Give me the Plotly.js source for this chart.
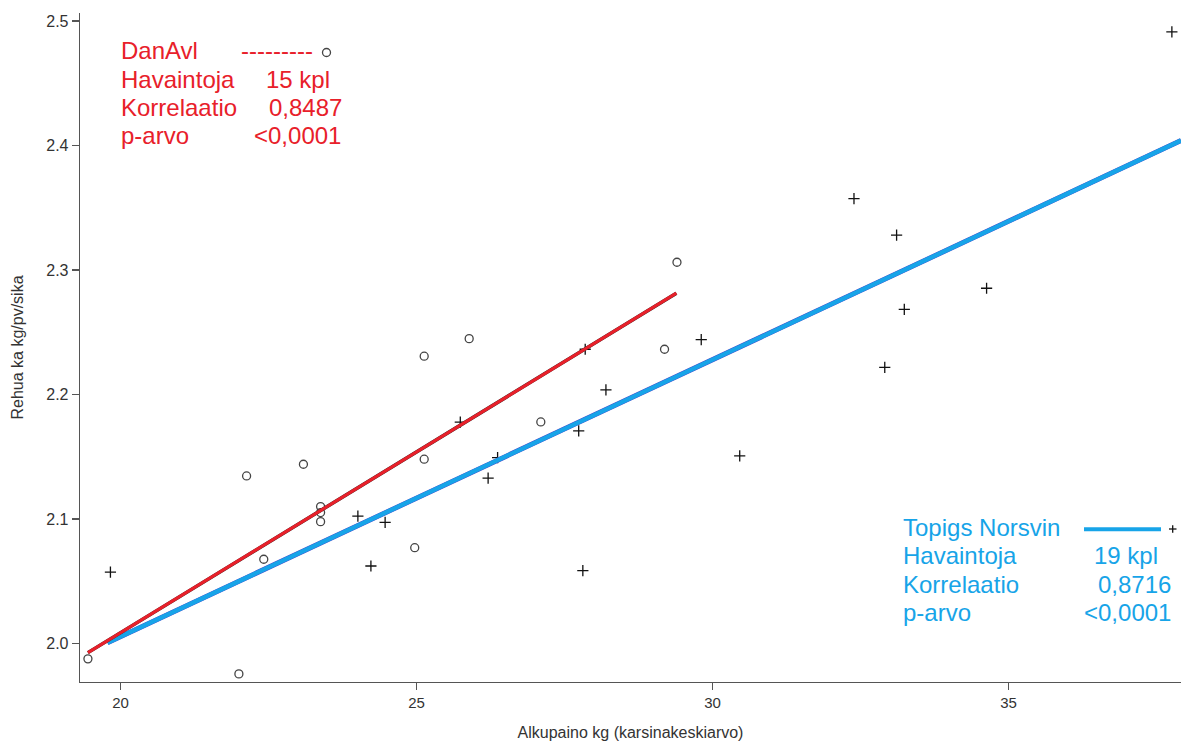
<!DOCTYPE html>
<html>
<head>
<meta charset="utf-8">
<script src="https://cdn.plot.ly/plotly-3.0.1.min.js"></script>
<style>html,body{margin:0;padding:0;background:#fff;}#chart{width:1181px;height:742px;}</style>
</head>
<body>
<div id="chart"></div>
<script>
// DanAvl (circles)
const danX = [29.40, 25.89, 25.13, 29.19, 27.10, 22.13, 23.09, 25.13, 23.38, 23.38, 23.38, 22.42, 24.97, 19.45, 22.00];
const danY = [2.3062, 2.2448, 2.2307, 2.2363, 2.1779, 2.1345, 2.1439, 2.1480, 2.1099, 2.1051, 2.0978, 2.0676, 2.0769, 1.9876, 1.9755];
// Topigs Norsvin (crosses)
const topX = [19.83, 24.01, 24.47, 24.23, 26.21, 25.74, 26.37, 27.74, 27.85, 28.20, 27.81, 29.81, 30.46, 32.39, 33.11, 33.24, 32.91, 34.63, 37.76];
const topY = [2.0572, 2.1022, 2.0973, 2.0622, 2.1327, 2.1777, 2.1492, 2.1707, 2.2363, 2.2036, 2.0585, 2.2440, 2.1506, 2.3573, 2.3279, 2.2684, 2.2218, 2.2853, 2.4912];
// regression lines (end points)
const danFitX = [19.45, 29.39];
const danFitY = [1.9926, 2.2813];
const topFitX = [19.78, 37.914];
const topFitY = [2.0006, 2.4039];
// axis ticks
const xTicks = [20, 25, 30, 35];
const yTicks = [2.0, 2.1, 2.2, 2.3, 2.4, 2.5];
// legend texts
const danLabels = ["DanAvl", "Havaintoja", "Korrelaatio", "p-arvo"];
const danValues = ["---------", "15 kpl", "0,8487", "<0,0001"];
const topLabels = ["Topigs Norsvin", "Havaintoja", "Korrelaatio", "p-arvo"];
const topValues = ["", "19 kpl", "0,8716", "<0,0001"];

const RED = '#e8202a', BLUE = '#17a4e8';
const FONT = 'Liberation Sans, Arial, sans-serif';
const L = 80, T = 13, W = 1101, H = 669;
const px = p => (p - L) / W;
const py = p => (T + H - p) / H;

const traces = [
  {x: danX, y: danY, mode: 'markers', type: 'scatter', name: 'DanAvl',
   marker: {symbol: 'circle-open', size: 8, color: '#444', line: {width: 1.3, color: '#444'}}},
  {x: topX, y: topY, mode: 'markers', type: 'scatter', name: 'Topigs Norsvin',
   marker: {symbol: 'cross-thin-open', size: 8, color: '#111', line: {width: 1.3, color: '#111'}}},
  {x: topFitX, y: topFitY, mode: 'lines', type: 'scatter', line: {color: '#4a48c8', width: 5.0}, hoverinfo: 'skip'},
  {x: topFitX, y: topFitY, mode: 'lines', type: 'scatter', line: {color: BLUE, width: 4.4}, hoverinfo: 'skip'},
  {x: danFitX, y: danFitY, mode: 'lines', type: 'scatter', line: {color: '#222', width: 3.5}, hoverinfo: 'skip'},
  {x: danFitX, y: danFitY, mode: 'lines', type: 'scatter', line: {color: RED, width: 3.2}, hoverinfo: 'skip'}
];

const annotations = [];
const redRows = [51, 79.5, 107, 135.5];
const redValX = [240, 265, 268, 253];
danLabels.forEach((t, i) => {
  annotations.push({xref: 'paper', yref: 'paper', x: px(120), y: py(redRows[i]), xanchor: 'left', yanchor: 'middle',
    text: t, showarrow: false, borderpad: 0, font: {family: FONT, size: 24, color: RED}});
  annotations.push({xref: 'paper', yref: 'paper', x: px(redValX[i]), y: py(redRows[i]), xanchor: 'left', yanchor: 'middle',
    text: danValues[i], showarrow: false, borderpad: 0, font: {family: FONT, size: 24, color: RED}});
});
const blueRows = [527, 555.5, 584, 612.5];
const blueValX = [0, 1093, 1097, 1083];
topLabels.forEach((t, i) => {
  annotations.push({xref: 'paper', yref: 'paper', x: px(902), y: py(blueRows[i]), xanchor: 'left', yanchor: 'middle',
    text: t, showarrow: false, borderpad: 0, font: {family: FONT, size: 24, color: BLUE}});
  if (topValues[i]) annotations.push({xref: 'paper', yref: 'paper', x: px(blueValX[i]), y: py(blueRows[i]), xanchor: 'left', yanchor: 'middle',
    text: topValues[i], showarrow: false, borderpad: 0, font: {family: FONT, size: 24, color: BLUE}});
});

const shapes = [
  // DanAvl legend circle
  {type: 'circle', xref: 'paper', yref: 'paper', x0: px(322.5), x1: px(330.5), y0: py(48.5), y1: py(56.5),
   line: {color: '#444', width: 1.3}},
  // Topigs legend line
  {type: 'line', xref: 'paper', yref: 'paper', x0: px(1084), x1: px(1161), y0: py(529.3), y1: py(529.3),
   line: {color: BLUE, width: 4}},
  // Topigs legend cross
  {type: 'line', xref: 'paper', yref: 'paper', x0: px(1169), x1: px(1176.5), y0: py(529), y1: py(529), line: {color: '#111', width: 1.3}},
  {type: 'line', xref: 'paper', yref: 'paper', x0: px(1172.7), x1: px(1172.7), y0: py(525.2), y1: py(532.8), line: {color: '#111', width: 1.3}}
];

const layout = {
  width: 1181, height: 742,
  margin: {l: L, r: 0, t: T, b: 742 - T - H},
  paper_bgcolor: '#fff', plot_bgcolor: '#fff',
  showlegend: false,
  font: {family: FONT, color: '#333'},
  xaxis: {
    range: [19.316, 37.914], tickvals: xTicks, ticks: 'outside', ticklen: 7, tickwidth: 1.2, tickcolor: '#555',
    showline: true, linecolor: '#555', linewidth: 1.3, showgrid: false, zeroline: false,
    tickfont: {family: FONT, size: 15, color: '#333'},
    title: {text: 'Alkupaino kg (karsinakeskiarvo)', font: {family: FONT, size: 16, color: '#333'}, standoff: 16}
  },
  yaxis: {
    range: [1.969, 2.5064], tickvals: yTicks, tickformat: '.1f', ticks: 'outside', ticklen: 7, tickwidth: 1.2, tickcolor: '#555',
    showline: true, linecolor: '#555', linewidth: 1.3, showgrid: false, zeroline: false,
    tickfont: {family: FONT, size: 16, color: '#333'},
    title: {text: 'Rehua ka kg/pv/sika', font: {family: FONT, size: 16, color: '#333'}, standoff: 18}
  },
  annotations: annotations,
  shapes: shapes
};

Plotly.newPlot('chart', traces, layout, {displayModeBar: false, staticPlot: true});
</script>
</body>
</html>
